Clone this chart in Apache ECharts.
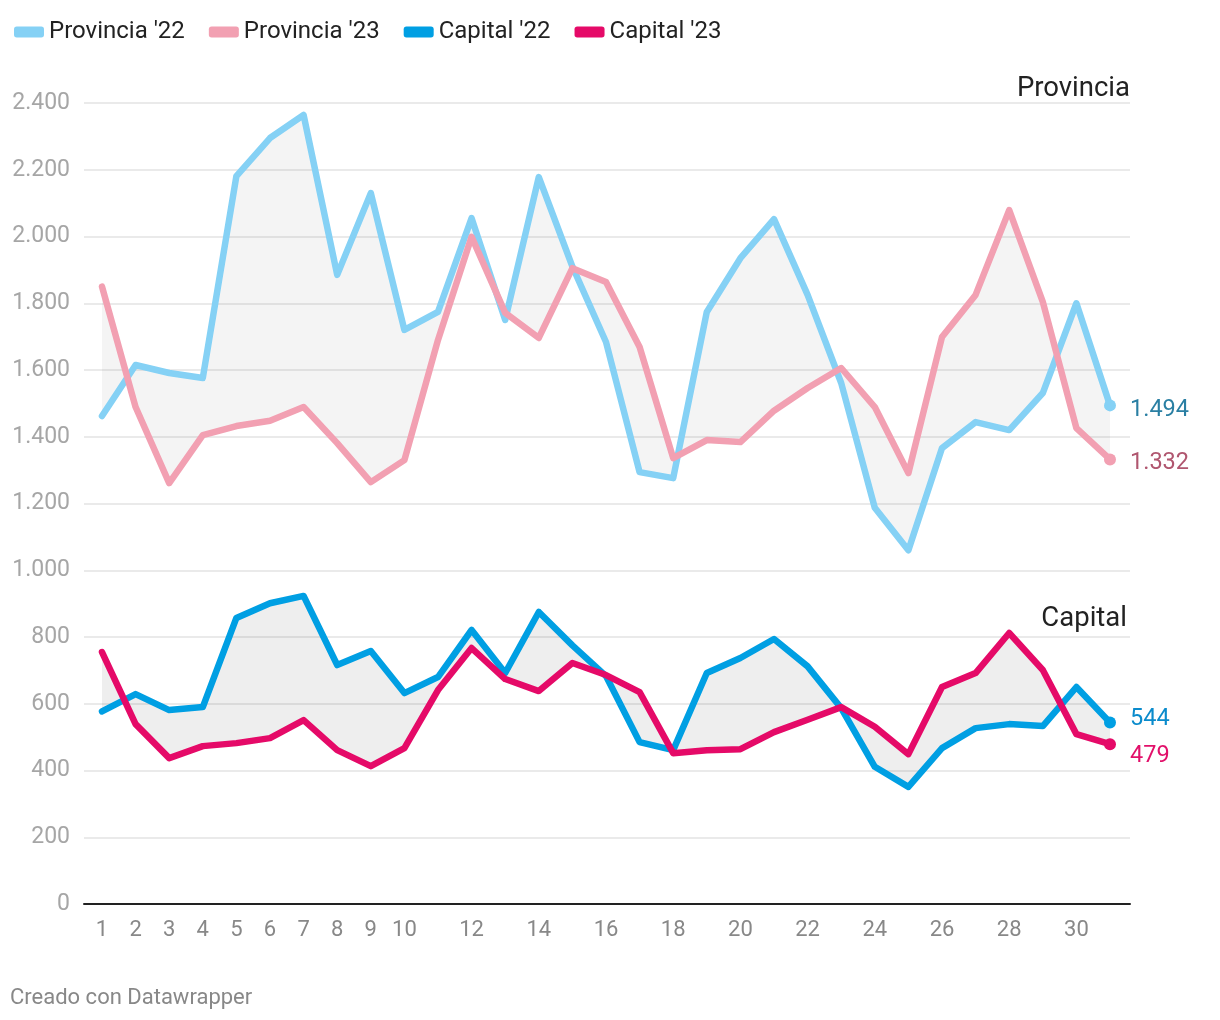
<!DOCTYPE html>
<html>
<head>
<meta charset="utf-8">
<script src="https://cdn.jsdelivr.net/npm/echarts@6/dist/echarts.min.js"></script>
<style>
html,body{margin:0;padding:0;background:#fff;}
#chart{width:1220px;height:1020px;}
</style>
</head>
<body>
<div id="chart"></div>
<script>
const days = ['1','2','3','4','5','6','7','8','9','10','11','12','13','14','15','16','17','18','19','20','21','22','23','24','25','26','27','28','29','30','31'];
const prov22 = [1462,1615,1591,1576,2181,2295,2364,1885,2130,1720,1774,2055,1750,2178,1910,1684,1294,1276,1774,1935,2052,1825,1561,1187,1060,1366,1444,1420,1531,1800,1494];
const prov23 = [1850,1489,1261,1405,1432,1448,1489,1381,1264,1330,1690,1999,1771,1696,1905,1864,1669,1336,1390,1384,1478,1546,1606,1489,1291,1699,1825,2079,1804,1426,1332];
const cap22 = [577,629,581,590,857,901,923,716,758,632,680,821,692,875,775,683,485,461,692,737,794,712,587,411,351,467,527,539,533,650,544];
const cap23 = [755,539,437,473,482,497,551,461,413,467,641,767,674,638,722,686,635,452,461,464,515,552,590,531,449,650,692,812,701,509,479];
const seriesNames = ["Provincia '22", "Provincia '23", "Capital '22", "Capital '23"];
const yTicks = [0, 200, 400, 600, 800, 1000, 1200, 1400, 1600, 1800, 2000, 2200, 2400];

function fmt(v){ return String(v).replace(/\B(?=(\d{3})+(?!\d))/g, '.'); }

const chart = echarts.init(document.getElementById('chart'));
const FONT = 'Roboto';
const last = days.length - 1;

function band(a, b, fill){
  return {
    type: 'custom', xAxisIndex: 1, yAxisIndex: 1, silent: true, z: 1,
    data: [[0, 0]],
    renderItem: function(params, api){
      const pts = [];
      for (let i = 0; i < a.length; i++) pts.push(api.coord([i, a[i]]));
      for (let i = b.length - 1; i >= 0; i--) pts.push(api.coord([i, b[i]]));
      return { type: 'polygon', shape: { points: pts }, style: { fill: fill } };
    }
  };
}

function line(name, data, color, labelColor, dy){
  return {
    name: name, type: 'line', xAxisIndex: 1, yAxisIndex: 1, data: data, z: 3,
    showSymbol: true, showAllSymbol: true, symbol: 'circle',
    symbolSize: function(v, p){ return p.dataIndex === last ? 12 : 0; },
    lineStyle: { color: color, width: 6.5, join: 'round', cap: 'round' },
    itemStyle: { color: color },
    emphasis: { disabled: true },
    endLabel: { show: true, formatter: function(p){ return fmt(p.value); }, color: labelColor, fontSize: 23.5, fontFamily: FONT, distance: 20, offset: [0, dy] }
  };
}

chart.setOption({
  animation: false,
  textStyle: { fontFamily: FONT },
  legend: {
    data: seriesNames, left: 9, top: 15, icon: 'roundRect', itemWidth: 30, itemHeight: 11, itemGap: 24,
    textStyle: { fontSize: 24, color: '#222', fontFamily: FONT }
  },
  grid: [
    { left: 84, right: 90, top: 103, bottom: 116 },
    { left: 102, right: 110, top: 103, bottom: 116 }
  ],
  xAxis: [
    { type: 'value', gridIndex: 0, min: 0, max: 1, axisLabel: { show: false }, axisTick: { show: false }, splitLine: { show: false },
      axisLine: { show: true, onZero: true, lineStyle: { color: '#222', width: 2 } } },
    { type: 'category', gridIndex: 1, data: days, boundaryGap: false, axisLine: { show: false }, axisTick: { show: false },
      axisLabel: { color: '#888', fontSize: 22, fontFamily: FONT, margin: 15,
        interval: function(i){ return i < 10 || i % 2 === 1; } } }
  ],
  yAxis: [
    { type: 'value', gridIndex: 0, min: 0, max: 2400, interval: 200,
      axisLine: { show: false }, axisTick: { show: false },
      axisLabel: { color: '#a6a6a6', fontSize: 23, fontFamily: FONT, margin: 14, formatter: fmt },
      splitLine: { lineStyle: { color: '#e3e3e3', width: 1.5 } } },
    { type: 'value', gridIndex: 1, min: 0, max: 2400, interval: 200, show: false, splitLine: { show: false } }
  ],
  graphic: [
    { type: 'text', right: 90, top: 75, style: { text: 'Provincia', font: '27.5px Roboto', fill: '#222' } },
    { type: 'text', right: 93, top: 605, style: { text: 'Capital', font: '27.5px Roboto', fill: '#222' } },
    { type: 'text', left: 10, top: 987, style: { text: 'Creado con Datawrapper', font: '22px Roboto', fill: '#888' } }
  ],
  series: [
    band(prov22, prov23, 'rgba(0,0,0,0.045)'),
    band(cap22, cap23, 'rgba(0,0,0,0.065)'),
    line(seriesNames[0], prov22, '#85d1f5', '#2a7fa3', 5),
    line(seriesNames[1], prov23, '#f2a0b2', '#b0566f', 4),
    line(seriesNames[2], cap22, '#009fe3', '#0a8bcc', -3),
    line(seriesNames[3], cap23, '#e50a68', '#e2106a', 12)
  ]
});
</script>
</body>
</html>
